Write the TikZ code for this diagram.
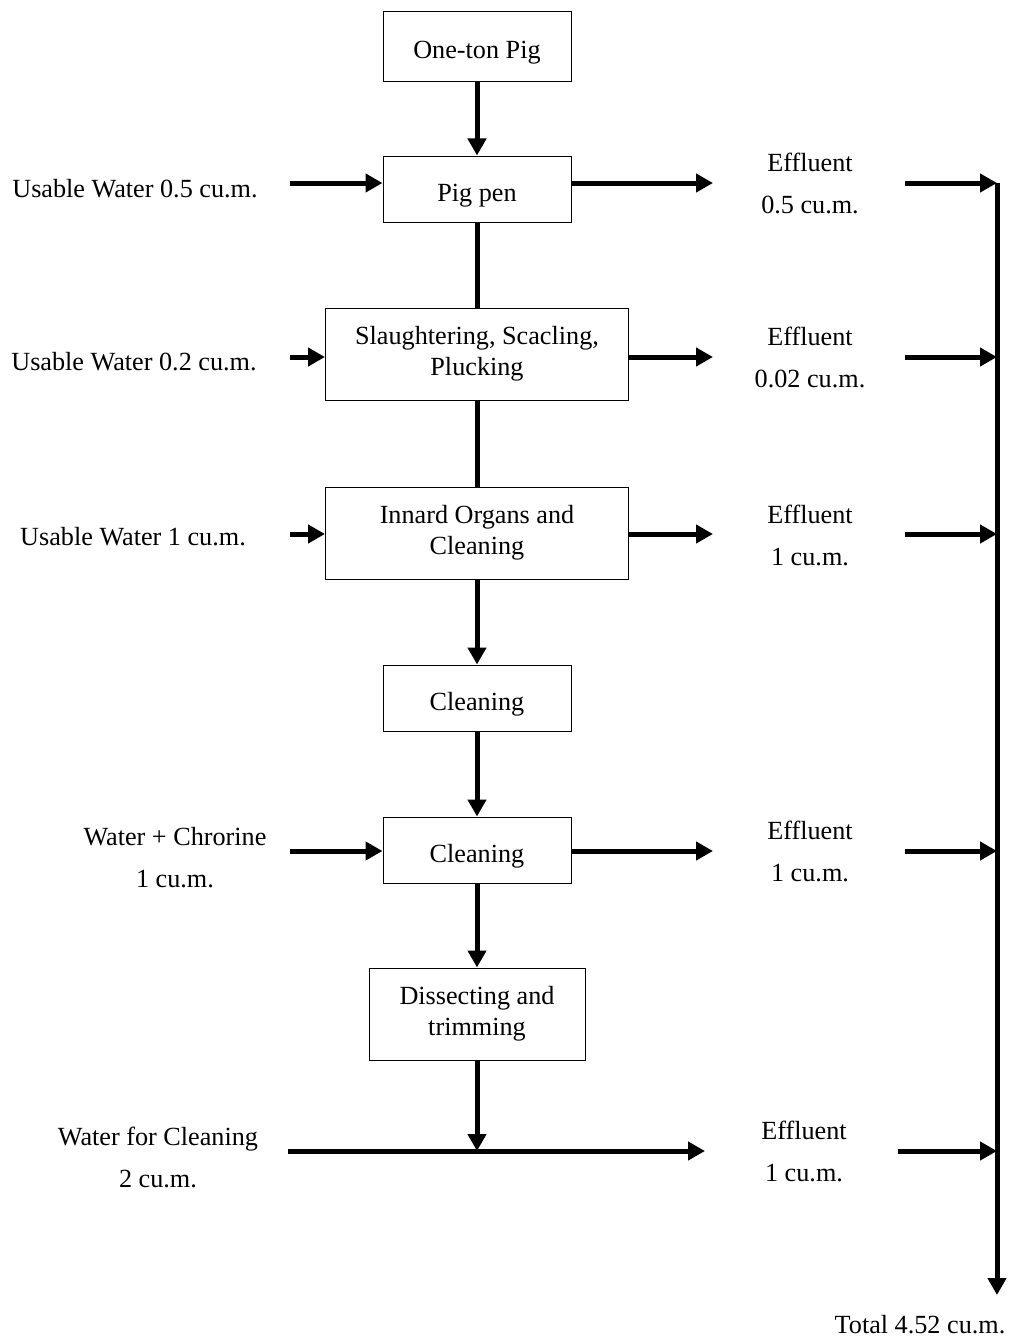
\documentclass[tikz,border=0pt]{standalone}
\usepackage{fontspec}
\setmainfont{Liberation Serif}
\usetikzlibrary{arrows.meta}

\begin{document}
\begin{tikzpicture}[
			x=0.5pt, y=-0.5pt,
			main/.style = {draw, line width=0.5pt, inner sep=0pt, align=center, font=\fontsize{13.1}{15.5}\selectfont},
			one/.style = {main, text height=12pt, text depth=0pt},
			txt/.style = {align=center, inner sep=0pt, font=\fontsize{13.1}{21}\selectfont},
			flow/.style = {line width=2.5pt, -{Triangle[length=8.5pt, width=9pt]}},
			pipe/.style = {line width=2.5pt}
		]
		\useasboundingbox (0,0) rectangle (1013,1338);
		\node[one, minimum width=94pt, minimum height=35pt] (1) at (477,47) {One-ton Pig};
		\node[one, minimum width=94pt, minimum height=33pt] (2) at (477,189) {Pig pen};
		\node[main, minimum width=151.5pt, minimum height=46pt] (3) at (477,354) {Slaughtering, Scacling,\\Plucking};
		\node[main, minimum width=151.5pt, minimum height=46pt] (4) at (477,533) {Innard Organs and\\Cleaning};
		\node[one, minimum width=94pt, minimum height=33pt] (5) at (477,698) {Cleaning};
		\node[one, minimum width=94pt, minimum height=33pt] (6) at (477,850) {Cleaning};
		\node[main, minimum width=108pt, minimum height=46pt] (7) at (477,1014) {Dissecting and\\trimming};
		\node[txt] (w1) at (135,189) {Usable Water 0.5 cu.m.};
		\node[txt] (w2) at (134,362) {Usable Water 0.2 cu.m.};
		\node[txt] (w3) at (133,537) {Usable Water 1 cu.m.};
		\node[txt] (w4) at (175,858) {Water + Chrorine\\1 cu.m.};
		\node[txt] (w5) at (158,1157) {Water for Cleaning\\2 cu.m.};
		\node[txt] (e1) at (810,183) {Effluent\\0.5 cu.m.};
		\node[txt] (e2) at (810,357) {Effluent\\0.02 cu.m.};
		\node[txt] (e3) at (810,535) {Effluent\\1 cu.m.};
		\node[txt] (e4) at (810,851) {Effluent\\1 cu.m.};
		\node[txt] (e5) at (804,1151) {Effluent\\1 cu.m.};
		\node[txt] (tot) at (920,1325) {Total 4.52 cu.m.};
		\coordinate (i1) at (290,183);
		\coordinate (i2) at (290,357);
		\coordinate (i3) at (290,534);
		\coordinate (i4) at (290,851);
		\coordinate (i5) at (288,1151);
		\coordinate (o1) at (713,183);
		\coordinate (o2) at (713,357);
		\coordinate (o3) at (713,534);
		\coordinate (o4) at (713,851);
		\coordinate (o5) at (705,1151);
		\coordinate (c1) at (905,183);
		\coordinate (c2) at (905,357);
		\coordinate (c3) at (905,534);
		\coordinate (c4) at (905,851);
		\coordinate (c5) at (898,1151);
		\coordinate (t1) at (997,183);
		\coordinate (t2) at (997,357);
		\coordinate (t3) at (997,534);
		\coordinate (t4) at (997,851);
		\coordinate (t5) at (997,1151);
		\coordinate (t6) at (997,1295);
		\draw[flow] (1) -- (2);
		\draw[pipe] (2) -- (3);
		\draw[pipe] (3) -- (4);
		\draw[flow] (4) -- (5);
		\draw[flow] (5) -- (6);
		\draw[flow] (6) -- (7);
		\draw[flow] (7.south) -- (7.south |- i5);
		\draw[flow] (i1) -- (2.west |- i1);
		\draw[flow] (i2) -- (3.west |- i2);
		\draw[flow] (i3) -- (4.west |- i3);
		\draw[flow] (i4) -- (6.west |- i4);
		\draw[flow] (i5) -- (o5);
		\draw[flow] (2.east |- o1) -- (o1);
		\draw[flow] (3.east |- o2) -- (o2);
		\draw[flow] (4.east |- o3) -- (o3);
		\draw[flow] (6.east |- o4) -- (o4);
		\draw[flow] (c1) -- (t1);
		\draw[flow] (c2) -- (t2);
		\draw[flow] (c3) -- (t3);
		\draw[flow] (c4) -- (t4);
		\draw[flow] (c5) -- (t5);
		\draw[flow] (t1) -- (t6);
	\end{tikzpicture}
\end{document}
